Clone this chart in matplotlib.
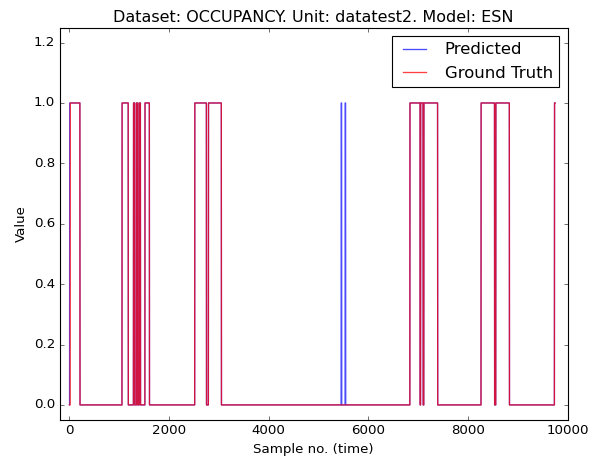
import numpy as np
import matplotlib
matplotlib.use("Agg")
import matplotlib.pyplot as plt

# series length and intervals (start, end) where the value is 1
n_samples = 9752
truth_on = [(15, 210), (1055, 1180), (1285, 1310), (1345, 1370), (1400, 1425),
            (1515, 1605), (2515, 2750), (2790, 3050), (6835, 7040), (7050, 7100),
            (7115, 7392), (8264, 8535), (8560, 8833), (9738, 9752)]
pred_on = [(3, 210), (1055, 1180), (1285, 1310), (1345, 1370), (1400, 1425),
           (1515, 1605), (2515, 2750), (2790, 3050), (5455, 5465), (5535, 5545),
           (6835, 7040), (7050, 7100), (7115, 7392), (8264, 8535), (8560, 8833),
           (9738, 9752)]

truth = np.zeros(n_samples)
for a, b in truth_on:
    truth[a:b] = 1
pred = np.zeros(n_samples)
for a, b in pred_on:
    pred[a:b] = 1

plt.style.use('classic')
fig = plt.figure(figsize=(590 / 80, 461 / 80), dpi=80, facecolor='white')
ax = fig.add_axes([59.5 / 590, 1 - 420 / 461, (567.5 - 59.5) / 590, (420 - 27.5) / 461])

ax.plot(pred, color='b', alpha=0.7, lw=1.2, label='Predicted')
ax.plot(truth, color='r', alpha=0.75, lw=1.2, label='Ground Truth')

ax.set_xlim(-200, 10000)
ax.set_ylim(-0.05, 1.25)
ax.set_xticks(np.arange(0, 10001, 2000))
ax.set_yticks(np.arange(0, 1.21, 0.2))
ax.set_title("Dataset: OCCUPANCY. Unit: datatest2. Model: ESN")
ax.set_xlabel("Sample no. (time)")
ax.set_ylabel("Value")
ax.legend(loc='upper right', fontsize=14.8)

fig.savefig("out.png", dpi=80, facecolor='white')
